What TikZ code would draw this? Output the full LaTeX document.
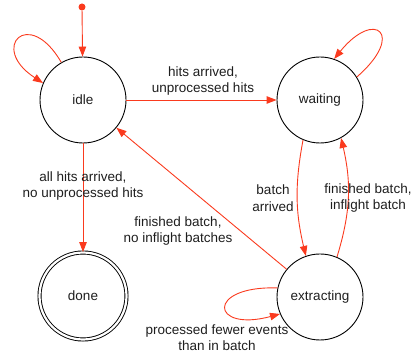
\documentclass[tikz,border=0pt]{standalone}
\usepackage{fontspec}
\setmainfont{Liberation Sans}
\usetikzlibrary{arrows.meta}
\definecolor{edgered}{RGB}{250,58,30}
\definecolor{txt}{RGB}{30,30,30}
\begin{document}
\begin{tikzpicture}[x=1pt,y=1pt,
  font=\fontsize{13.5}{16.5}\selectfont,
  state/.style={circle,draw=black,line width=0.9pt,minimum size=86pt,inner sep=0pt,text=txt},
  final/.style={state,double,double distance=2.2pt,minimum size=87pt},
  edge/.style={draw=edgered,line width=0.9pt,-{Triangle[length=10pt,width=7.5pt]}},
  lbl/.style={align=center,inner sep=0pt,text=txt}]
\useasboundingbox (0,0) rectangle (412,353);
\node[state] (idle) at (83,253) {idle};
\node[state] (waiting) at (320,253) {waiting};
\node[final] (done) at (83,57) {done};
\node[state] (extracting) at (320,56) {extracting};
\node[circle,fill=edgered,inner sep=0pt,minimum size=7pt] (start) at (82,346) {};

\draw[edge] (start) -- (idle);
\draw[edge] (idle.120) to[out=120,in=147,distance=65pt] (idle.157);
\draw[edge] (waiting.32) to[out=41,in=51,distance=65pt] (waiting.71);
\draw[edge] (idle) -- (waiting);
\draw[edge] (idle) -- (done);
\draw[edge] (extracting) -- (idle);
\draw[edge] (waiting.247) to[bend right=12] (extracting.109);
\draw[edge] (extracting.67) to[bend right=15] (waiting.299);
\draw[edge] (extracting.168) to[out=178,in=195,distance=72pt] (extracting.203);

\node[lbl] (l1) at (203,272) {hits arrived,\\unprocessed hits};
\node[lbl] (l2) at (83,167) {all hits arrived,\\no unprocessed hits};
\node[lbl] (l3) at (178,122) {finished batch,\\no inflight batches};
\node[lbl] (l4) at (273,155) {batch\\arrived};
\node[lbl] (l5) at (368,155) {finished batch,\\inflight batch};
\node[lbl] (l6) at (217,15.5) {processed fewer events\\than in batch};
\end{tikzpicture}
\end{document}
